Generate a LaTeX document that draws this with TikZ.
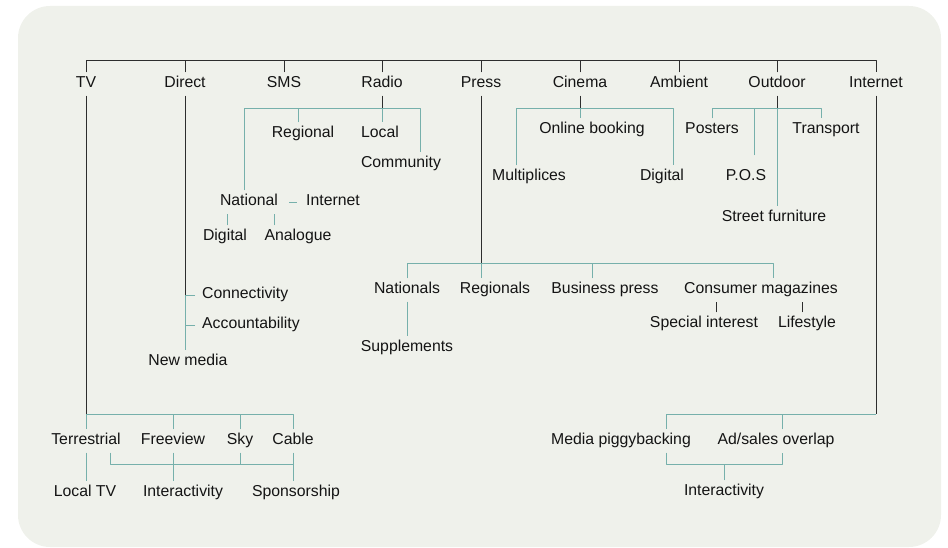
\documentclass[tikz,border=0pt]{standalone}
\usepackage{fontspec}
\setmainfont{Liberation Sans}
\usepackage{tikz}
\usetikzlibrary{positioning}
\definecolor{panelbg}{RGB}{239,241,235}
\definecolor{tealline}{RGB}{118,176,171}
\definecolor{darkline}{RGB}{45,45,45}
\definecolor{labeltext}{RGB}{20,20,20}

\begin{document}
\begin{tikzpicture}[line join=bevel,
  lbl/.style={inner xsep=0pt,inner ysep=4.5bp,text height=11bp,text depth=3bp,anchor=base,
    font=\fontsize{15.8bp}{18bp}\selectfont,text=labeltext},
  blk/.style={draw=darkline,line width=0.9bp},
  tl/.style={draw=tealline,line width=0.9bp},
]
\useasboundingbox (0bp,0bp) rectangle (948bp,548bp);
\fill[panelbg,rounded corners=32bp] (18bp,1bp) rectangle (941bp,542bp);
%%
\node (node_tv) at (86bp,460bp) [lbl] {TV};
  \node (node_direct) at (185bp,460bp) [lbl] {Direct};
  \node (node_sms) at (284bp,460bp) [lbl] {SMS};
  \node (node_radio) at (382bp,460bp) [lbl] {Radio};
  \node (node_press) at (481bp,460bp) [lbl] {Press};
  \node (node_cinema) at (580bp,460bp) [lbl] {Cinema};
  \node (node_ambient) at (679bp,460bp) [lbl] {Ambient};
  \node (node_outdoor) at (777bp,460bp) [lbl] {Outdoor};
  \node (node_internet) at (876bp,460bp) [lbl] {Internet};
%
\node (node_regional) at (303bp,410bp) [lbl] {Regional};
  \node (node_local) at (380bp,410bp) [lbl] {Local};
  \node (node_community) at (401bp,380bp) [lbl] {Community};
  \node (node_national) at (249bp,342bp) [lbl] {National};
  \node (node_radionet) at (333bp,342bp) [lbl] {Internet};
  \node (node_digitalradio) at (225bp,307bp) [lbl] {Digital};
  \node (node_analogue) at (298bp,307bp) [lbl] {Analogue};
%
\node (node_onlinebooking) at (592bp,414bp) [lbl] {Online booking};
  \node (node_multiplices) at (529bp,367bp) [lbl] {Multiplices};
  \node (node_cinemadigital) at (662bp,367bp) [lbl] {Digital};
%
\node (node_posters) at (712bp,414bp) [lbl] {Posters};
  \node (node_transport) at (826bp,414bp) [lbl] {Transport};
  \node (node_pos) at (746bp,367bp) [lbl] {P.O.S};
  \node (node_streetfurniture) at (774bp,326bp) [lbl] {Street furniture};
%
\node (node_nationals) at (407bp,254bp) [lbl] {Nationals};
  \node (node_regionals) at (495bp,254bp) [lbl] {Regionals};
  \node (node_businesspress) at (605bp,254bp) [lbl] {Business press};
  \node (node_consumermags) at (761bp,254bp) [lbl] {Consumer magazines};
  \node (node_supplements) at (407bp,196bp) [lbl] {Supplements};
  \node (node_specialinterest) at (704bp,220bp) [lbl] {Special interest};
  \node (node_lifestyle) at (807bp,220bp) [lbl] {Lifestyle};
%
\node (node_connectivity) at (202bp,249bp) [lbl,anchor=base west] {Connectivity};
  \node (node_accountability) at (202bp,219bp) [lbl,anchor=base west] {Accountability};
  \node (node_newmedia) at (188bp,182bp) [lbl] {New media};
%
\node (node_terrestrial) at (86bp,103bp) [lbl] {Terrestrial};
  \node (node_freeview) at (173bp,103bp) [lbl] {Freeview};
  \node (node_sky) at (240bp,103bp) [lbl] {Sky};
  \node (node_cable) at (293bp,103bp) [lbl] {Cable};
  \node (node_localtv) at (85bp,51bp) [lbl] {Local TV};
  \node (node_interactivity) at (183bp,51bp) [lbl] {Interactivity};
  \node (node_sponsorship) at (296bp,51bp) [lbl] {Sponsorship};
%
\node (node_piggyback) at (621bp,103bp) [lbl] {Media piggybacking};
  \node (node_adsales) at (776bp,103bp) [lbl] {Ad/sales overlap};
  \node (node_interactivityb) at (724bp,52bp) [lbl] {Interactivity};
%%
% top level
\draw [blk] (node_tv.north) -- ++(0,12bp) -| (node_internet.north);
\foreach \n in {direct,sms,radio,press,cinema,ambient,outdoor}
  \draw [blk] (node_\n.north) -- ++(0,12bp);
% radio
\draw [blk] (node_radio.south) -- ++(0,-12.5bp) coordinate (radiojoin);
\draw [tl] (radiojoin) -- (radiojoin |- node_local.north);
\draw [tl] ([xshift=-5bp]node_national.north) |- (radiojoin) -| ([xshift=19bp]node_community.north);
\draw [tl] ([xshift=-5bp]node_regional.north) -- ([xshift=-5bp]node_regional.north |- radiojoin);
\draw [tl] ([xshift=11bp]node_national.east) -- ([xshift=-9bp]node_radionet.west);
\draw [tl] ([xshift=2bp]node_digitalradio.north) -- ([xshift=2bp]node_digitalradio.north |- node_national.south);
\draw [tl] ([xshift=10bp]node_analogue.north west) -- ([xshift=10bp]node_analogue.north west |- node_national.south);
% cinema
\draw [blk] (node_cinema.south) -- ++(0,-12.5bp) coordinate (cinemajoin);
\draw [tl] (cinemajoin) -- (cinemajoin |- node_onlinebooking.north);
\draw [tl] ([xshift=-13bp]node_multiplices.north) |- (cinemajoin) -| ([xshift=11bp]node_cinemadigital.north);
% outdoor
\draw [blk] (node_outdoor.south) -- ++(0,-12.5bp) coordinate (outdoorjoin);
\draw [tl] (outdoorjoin) -- (outdoorjoin |- node_streetfurniture.north);
\draw [tl] (node_posters.north) |- (outdoorjoin) -| ([xshift=-5bp]node_transport.north);
\draw [tl] ([xshift=8bp,yshift=10bp]node_pos.north) -- ([xshift=8bp]node_pos.north |- outdoorjoin);
% press
\draw [blk] (node_press.south) -- ++(0,-167.5bp) coordinate (pressjoin);
\draw [tl] (node_nationals.north) |- (pressjoin) -| ([xshift=12bp]node_consumermags.north);
\draw [tl] (pressjoin) -- (pressjoin |- node_regionals.north);
\draw [tl] ([xshift=-13bp]node_businesspress.north) -- ([xshift=-13bp]node_businesspress.north |- pressjoin);
\draw [tl] (node_nationals.south) -- (node_supplements.north);
\draw [blk,line width=0.7bp] ([xshift=12bp]node_specialinterest.north) -- ([xshift=12bp]node_specialinterest.north |- node_consumermags.south);
\draw [blk,line width=0.7bp] ([xshift=-5bp]node_lifestyle.north) -- ([xshift=-5bp]node_lifestyle.north |- node_consumermags.south);
% direct
\draw [blk] (node_direct.south) -- (node_direct.south |- node_connectivity.west) coordinate (directjoin);
\draw [tl] (directjoin) -- (node_direct.south |- node_newmedia.north);
\draw [tl] ([xshift=-7bp]node_connectivity.west) -- (directjoin);
\draw [tl] ([xshift=-7bp]node_accountability.west) -- (node_accountability.west -| directjoin);
% tv
\draw [blk] (node_tv.south) -- ++(0,-318.5bp) coordinate (tvjoin);
\draw [tl] (tvjoin) -- (node_terrestrial.north);
\draw [tl] (tvjoin) -| (node_cable.north);
\draw [tl] (node_freeview.north) -- (node_freeview.north |- tvjoin);
\draw [tl] (node_sky.north) -- (node_sky.north |- tvjoin);
\draw [tl] (node_terrestrial.south) -- (node_terrestrial.south |- node_localtv.north);
\draw [tl] (node_sky.south) -- ++(0,-12bp) coordinate (tvlink);
\draw [tl] ([xshift=-10bp]node_terrestrial.south east) |- (tvlink) -- (tvlink -| node_cable.south);
\draw [tl] (node_freeview.south) -- (node_freeview.south |- node_interactivity.north);
\draw [tl] (node_cable.south) -- (node_cable.south |- node_sponsorship.north);
% internet
\draw [blk] (node_internet.south) -- ++(0,-318.5bp) coordinate (internetjoin);
\draw [tl] (internetjoin) -| ([xshift=45bp]node_piggyback.north);
\draw [tl] ([xshift=6bp]node_adsales.north) -- ([xshift=6bp]node_adsales.north |- internetjoin);
\draw [tl] ([xshift=45bp]node_piggyback.south) -- ++(0,-12bp) coordinate (internetlink) -| ([xshift=6bp]node_adsales.south);
\draw [tl] (node_interactivityb.north) -- (node_interactivityb.north |- internetlink);
%
\end{tikzpicture}
\end{document}
